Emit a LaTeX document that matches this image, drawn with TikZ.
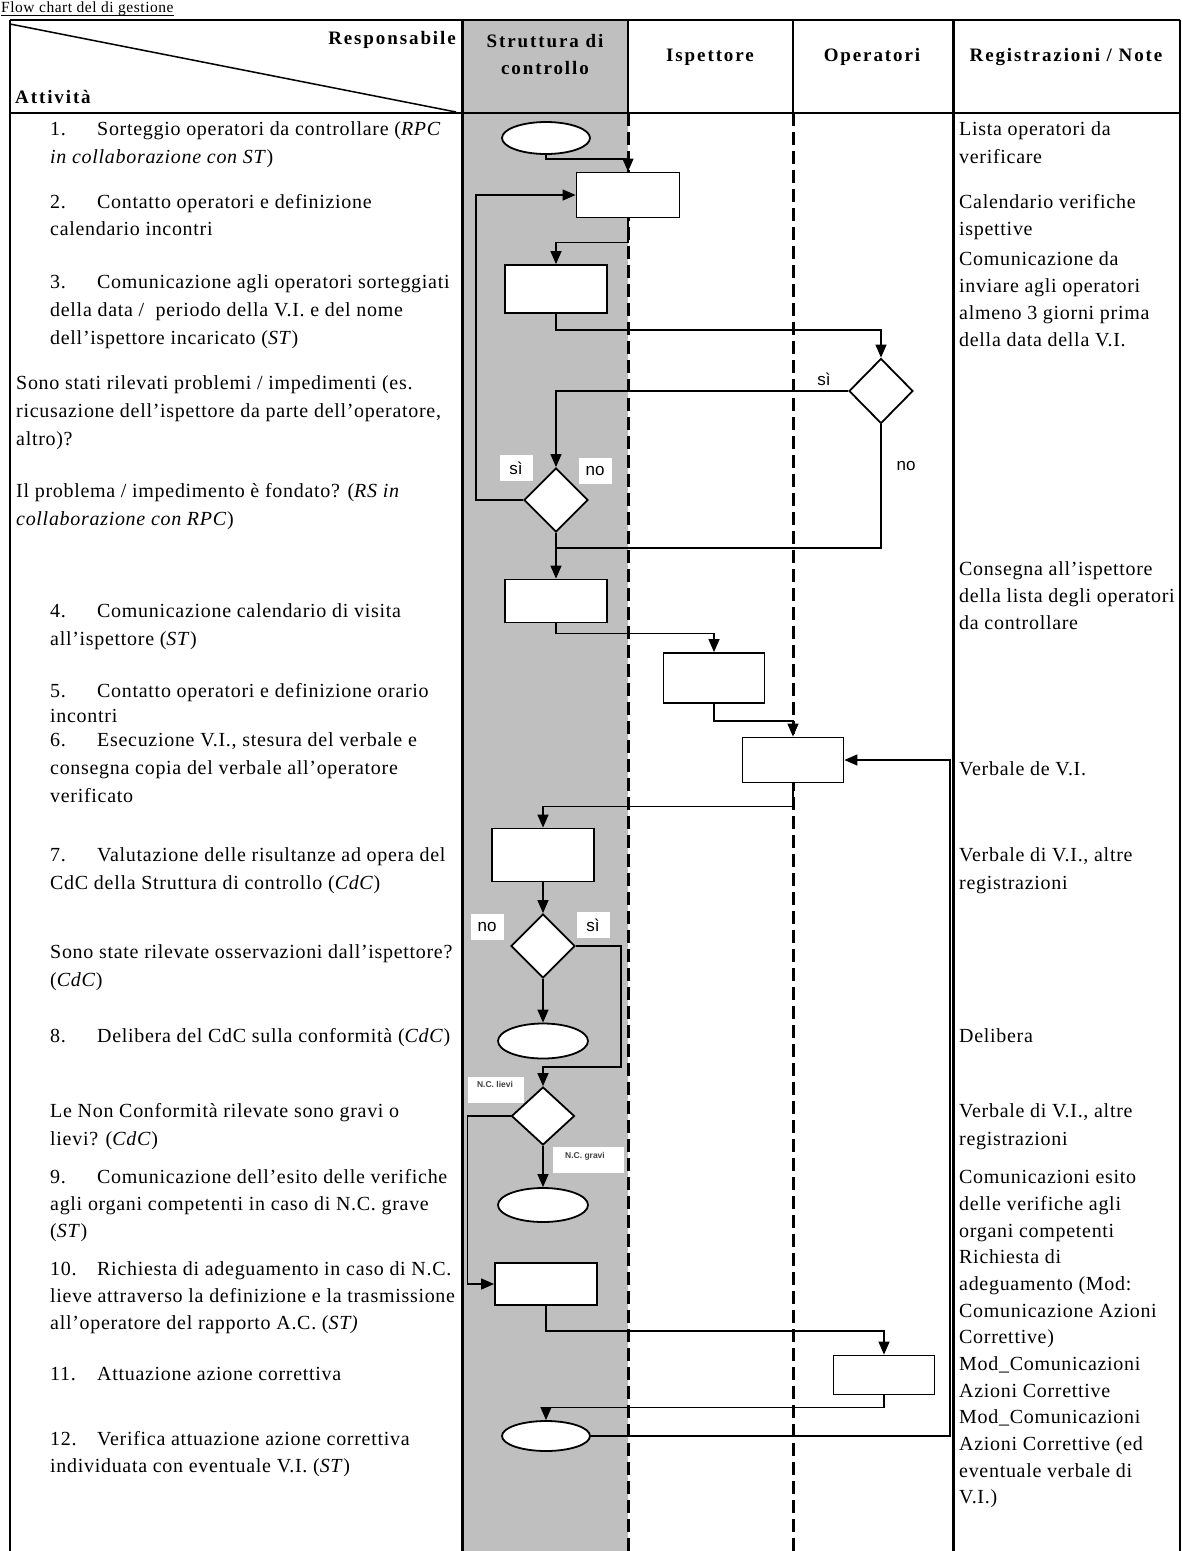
\documentclass[tikz,border=0pt]{standalone}
\usepackage{fontspec}
\setmainfont{Liberation Serif}[LetterSpace=3.5]
\newfontfamily\hdrfont{Liberation Serif}[LetterSpace=10]
\newfontfamily\labfont{Liberation Sans}
\usetikzlibrary{shapes.geometric,arrows.meta}
\newcommand\myst{\rule{0pt}{15pt}}
\newcommand\numb[1]{\makebox[47pt][l]{#1}}
\begin{document}
\begin{tikzpicture}[x=1pt,y=-1pt,
  txt/.style={anchor=north west,inner sep=0pt,align=left,font=\fontsize{20}{28}\selectfont},
  txtb/.style={anchor=north west,inner sep=0pt,align=left,font=\fontsize{20}{27}\selectfont},
  rtxt/.style={anchor=north west,inner sep=0pt,align=left,font=\fontsize{20}{26.67}\selectfont},
  hdr/.style={inner sep=0pt,align=center,font=\hdrfont\bfseries\fontsize{19}{27}\selectfont},
  boxn/.style={draw,line width=1.8pt,fill=white,rectangle,inner sep=0pt},
  ell/.style={draw,line width=1.8pt,fill=white,ellipse,inner sep=0pt},
  dia/.style={draw,line width=1.8pt,fill=white,diamond,inner sep=0pt},
  conn/.style={line width=1.3pt,-{Triangle[length=13pt,width=11pt]}},
  plainc/.style={line width=1.3pt},
  lab/.style={inner sep=0pt,font=\labfont\fontsize{17}{17}\selectfont},
  wlab/.style={lab,fill=white,minimum width=33pt,minimum height=26pt},
  tinylab/.style={inner sep=0pt,font=\labfont\bfseries\fontsize{8.5}{8.5}\selectfont,text=black!75},
  thick3/.style={line width=3pt},
  dashv/.style={line width=3pt,dash pattern=on 13pt off 6pt}
]
\useasboundingbox (0,0) rectangle (1183,1551);
\fill[white] (0,0) rectangle (1183,1551);
% gray column
\fill[black!25] (462,20) rectangle (628,1551);
% title (cut at top edge)
\node[anchor=base west,inner sep=0pt,font=\fontsize{15.5}{15.5}\selectfont] (title) at (1,12) {Flow chart del di gestione};
\draw[line width=0.8pt] ([yshift=-3pt]title.base west) -- ([yshift=-3pt]title.base east);
% table frame
\draw[line width=1.5pt] (10,20) -- (1180,20);
\draw[line width=2pt] (10,113) -- (1180,113);
\draw[line width=1.5pt] (10,20) -- (10,1551);
\draw[line width=1.5pt] (1180,20) -- (1180,1551);
\draw[thick3] (462,20) -- (462,1551);
\draw[thick3] (953,20) -- (953,1551);
\draw[line width=2.5pt] (628,20) -- (628,113);
\draw[line width=1.5pt] (793,20) -- (793,113);
\draw[dashv] (628,113) -- (628,1551);
\draw[dashv] (793,113) -- (793,1551);
\draw[line width=1.5pt] (10,24) -- (456,112);
% header texts
\node[hdr,anchor=east] (hresp) at (456,40) {Responsabile};
\node[hdr,anchor=west] (hatt) at (15,97) {Attività};
\node[hdr] (hstr) at (545,54) {Struttura di\\controllo};
\node[hdr] (hisp) at (710,57) {Ispettore};
\node[hdr] (hope) at (872,57) {Operatori};
\node[hdr] (hreg) at (1066,57) {Registrazioni / Note};
% left column texts
\node[txt] (t1) at (50,120.5) {\myst\numb{1.}Sorteggio operatori da controllare (\textit{RPC}\\\textit{in collaborazione con ST})};
\node[txtb] (t2) at (50,193.5) {\myst\numb{2.}Contatto operatori e definizione\\calendario incontri};
\node[txt] (t3) at (50,273.5) {\myst\numb{3.}Comunicazione agli operatori sorteggiati\\della data /\ \ periodo della V.I. e del nome\\dell’ispettore incaricato (\textit{ST})};
\node[txt] (t3b) at (16,374.5) {\myst Sono stati rilevati problemi / impedimenti (es.\\ricusazione dell’ispettore da parte dell’operatore,\\altro)?};
\node[txt] (t3c) at (16,482.5) {\myst Il problema / impedimento è fondato? (\textit{RS in}\\\textit{collaborazione con RPC})};
\node[txt] (t4) at (50,602.5) {\myst\numb{4.}Comunicazione calendario di visita\\all’ispettore (\textit{ST})};
\node[anchor=north west,inner sep=0pt,align=left,font=\fontsize{20}{25}\selectfont] (t5) at (50,682.5) {\myst\numb{5.}Contatto operatori e definizione orario\\incontri};
\node[txt] (t6) at (50,731.5) {\myst\numb{6.}Esecuzione V.I., stesura del verbale e\\consegna copia del verbale all’operatore\\verificato};
\node[txt] (t7) at (50,846.5) {\myst\numb{7.}Valutazione delle risultanze ad opera del\\CdC della Struttura di controllo (\textit{CdC})};
\node[txt] (t7b) at (50,943.5) {\myst Sono state rilevate osservazioni dall’ispettore?\\(\textit{CdC})};
\node[txt] (t8) at (50,1027.5) {\myst\numb{8.}Delibera del CdC sulla conformità (\textit{CdC})};
\node[txt] (t8b) at (50,1102.5) {\myst Le Non Conformità rilevate sono gravi o\\lievi? (\textit{CdC})};
\node[txtb] (t9) at (50,1168.5) {\myst\numb{9.}Comunicazione dell’esito delle verifiche\\agli organi competenti in caso di N.C. grave\\(\textit{ST})};
\node[rtxt] (t10) at (50,1260.5) {\myst\numb{10.}Richiesta di adeguamento in caso di N.C.\\lieve attraverso la definizione e la trasmissione\\all’operatore del rapporto A.C. (\textit{ST)}};
\node[txt] (t11) at (50,1365.5) {\myst\numb{11.}Attuazione azione correttiva};
\node[txtb] (t12) at (50,1430.5) {\myst\numb{12.}Verifica attuazione azione correttiva\\individuata con eventuale V.I. (\textit{ST})};
% right column texts
\node[txt] (r1) at (959,120.5) {\myst Lista operatori da\\verificare};
\node[txtb] (r2) at (959,193.5) {\myst Calendario verifiche\\ispettive};
\node[txtb] (r3) at (959,250.5) {\myst Comunicazione da\\inviare agli operatori\\almeno 3 giorni prima\\della data della V.I.};
\node[txtb] (r4) at (959,560.5) {\myst Consegna all’ispettore\\della lista degli operatori\\da controllare};
\node[txt] (r6) at (959,760.5) {\myst Verbale de V.I.};
\node[txt] (r7) at (959,846.5) {\myst Verbale di V.I., altre\\registrazioni};
\node[txt] (r8) at (959,1027.5) {\myst Delibera};
\node[txt] (r8b) at (959,1102.5) {\myst Verbale di V.I., altre\\registrazioni};
\node[rtxt] (r9) at (959,1168.5) {\myst Comunicazioni esito\\delle verifiche agli\\organi competenti\\Richiesta di\\adeguamento (Mod:\\Comunicazione Azioni\\Correttive)\\Mod\_Comunicazioni\\Azioni Correttive\\Mod\_Comunicazioni\\Azioni Correttive (ed\\eventuale verbale di\\V.I.)};
% flow shapes
\node[ell,minimum width=88pt,minimum height=32pt] (e1) at (546,138) {};
\node[boxn,minimum width=103pt,minimum height=45pt] (b2) at (628,195) {};
\node[boxn,minimum width=102pt,minimum height=48pt] (b3) at (556,289) {};
\node[dia,minimum width=64pt,minimum height=65pt] (d1) at (881,391) {};
\node[dia,minimum width=64pt,minimum height=64pt] (d2) at (556,500) {};
\node[boxn,minimum width=102pt,minimum height=43pt] (b4) at (556,601) {};
\node[boxn,minimum width=101pt,minimum height=50pt] (b5) at (714,678) {};
\node[boxn,minimum width=101pt,minimum height=45pt] (b6) at (793,760) {};
\node[boxn,minimum width=102pt,minimum height=53pt] (b7) at (543,855) {};
\node[dia,minimum width=64pt,minimum height=64pt] (d3) at (543,946) {};
\node[ell,minimum width=90pt,minimum height=35pt] (e8) at (543,1041) {};
\node[dia,minimum width=63pt,minimum height=58pt] (d4) at (543,1116) {};
\node[ell,minimum width=90pt,minimum height=34pt] (e9) at (543,1205) {};
\node[boxn,minimum width=102pt,minimum height=42pt] (b10) at (546,1284) {};
\node[boxn,minimum width=101pt,minimum height=39pt] (b11) at (884,1375) {};
\node[ell,minimum width=88pt,minimum height=30pt] (e12) at (546,1436) {};
% connectors
\draw[conn] (e1.south) -- ++(0,4) -| (b2.north);
\draw[conn] (b2.south) -- ++(0,24) -| (b3.north);
\draw[conn] (b3.south) -- ++(0,16) -| (d1.north);
\draw[conn] (d1.west) -| (d2.north);
\draw[conn] (d2.west) -- ++(-47,0) |- (b2.west);
\draw[conn] (d2.south) -- (b4.north);
\draw[plainc] (d1.south) |- ([yshift=-15pt]d2.south);
\draw[conn] (b4.south) -- ++(0,10) -| (b5.north);
\draw[conn] (b5.south) -- ++(0,17) -| (b6.north);
\draw[conn] (b6.south) -- ++(0,23) -| (b7.north);
\draw[conn] (b7.south) -- (d3.north);
\draw[conn] (d3.south) -- (e8.north);
\draw[conn] (d3.east) -- ++(45,0) |- ([yshift=19pt]d4.north) -- (d4.north);
\draw[conn] (d4.south) -- (e9.north);
\draw[conn] (d4.west) -- ++(-43,0) |- (b10.west);
\draw[conn] (b10.south) -- ++(0,25) -| (b11.north);
\draw[conn] (b11.south) -- ++(0,12) -| (e12.north);
\draw[conn] (e12.east) -- ++(359,0) |- (b6.east);
% labels
\node[lab] (ls1) at (824,379) {sì};
\node[lab] (ln1) at (906,466) {no};
\node[wlab] (ls2) at (516,468) {sì};
\node[wlab] (ln2) at (595,471) {no};
\node[wlab] (ln3) at (487,927) {no};
\node[wlab] (ls3) at (593,925) {sì};
\fill[white] (468,1077) rectangle (524,1103);
\node[tinylab] (lnc1) at (495,1084) {N.C. lievi};
\fill[white] (553,1147) rectangle (624,1173);
\node[tinylab] (lnc2) at (585,1156) {N.C. gravi};
\end{tikzpicture}
\end{document}
